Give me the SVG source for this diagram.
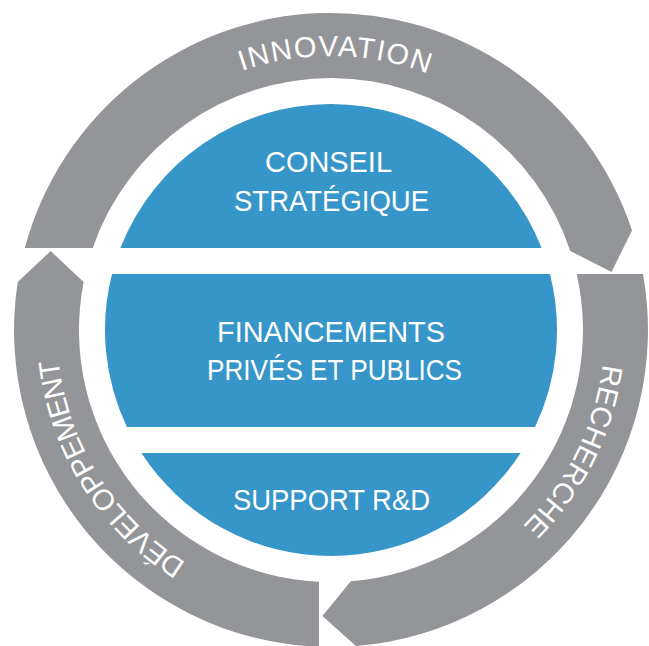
<svg xmlns="http://www.w3.org/2000/svg" width="649" height="646" viewBox="0 0 649 646">
<style>
.ring{fill:#939598;}
.band{fill:#3796c9;}
.lbl{font-family:"Liberation Sans",Arial,sans-serif;font-size:30px;fill:#ffffff;text-anchor:middle;}
.arc{font-family:"Liberation Sans",Arial,sans-serif;font-size:29px;fill:#ffffff;text-anchor:middle;}
</style>
<defs>
<path id="pInno" d="M 96.1 188.9 A 274 274 0 0 1 570.6 197.2"/>
<path id="pRech" d="M 559.2 178.4 A 274 274 0 0 1 348.2 603.5"/>
<path id="pDev" d="M 341.5 603.8 A 274 274 0 0 1 88.6 202.2"/>
</defs>
<rect width="649" height="646" fill="#ffffff"/>
<g id="connectors">
<g id="arrow-innovation">
<path class="ring" d="M 24.8 248 A 317 317 0 0 1 632.0 230.5 L 611.5 272 L 570.2 250.9 A 252 252 0 0 0 92.7 248 Z"/>
<text class="arc" letter-spacing="1.5"><textPath href="#pInno" startOffset="50%">INNOVATION</textPath></text>
</g>
<g id="arrow-recherche">
<path class="ring" d="M 576.7 274 L 643 274 A 317 317 0 0 1 355.9 646.0 L 322.4 616 L 350.8 581.2 A 252 252 0 0 0 576.7 274 Z"/>
<text class="arc"><textPath href="#pRech" startOffset="50%">RECHERCHE</textPath></text>
</g>
<g id="arrow-developpement">
<path class="ring" d="M 319 646.8 A 317 317 0 0 1 17.7 282 L 50.65 251 L 83.6 282 A 252 252 0 0 0 319 581.7 Z"/>
<text class="arc" letter-spacing="-0.8"><textPath href="#pDev" startOffset="50%">DÉVELOPPEMENT</textPath></text>
</g>
</g>
<g id="node-conseil">
<path class="band" d="M 120.4 248 A 226 226 0 0 1 541.6 248 Z"/>
<text class="lbl" x="328.5" y="172" textLength="127" lengthAdjust="spacingAndGlyphs">CONSEIL</text>
<text class="lbl" x="331.5" y="211" textLength="195" lengthAdjust="spacingAndGlyphs">STRATÉGIQUE</text>
</g>
<g id="node-financements">
<path class="band" d="M 112.05 274 L 549.95 274 A 226 226 0 0 1 535.1 427 L 126.9 427 A 226 226 0 0 1 112.05 274 Z"/>
<text class="lbl" x="331" y="342" textLength="228" lengthAdjust="spacingAndGlyphs">FINANCEMENTS</text>
<text class="lbl" x="334.5" y="380" textLength="255" lengthAdjust="spacingAndGlyphs">PRIVÉS ET PUBLICS</text>
</g>
<g id="node-support">
<path class="band" d="M 141.4 453 L 520.6 453 A 226 226 0 0 1 141.4 453 Z"/>
<text class="lbl" x="331.5" y="510" textLength="197" lengthAdjust="spacingAndGlyphs">SUPPORT R&amp;D</text>
</g>
</svg>
